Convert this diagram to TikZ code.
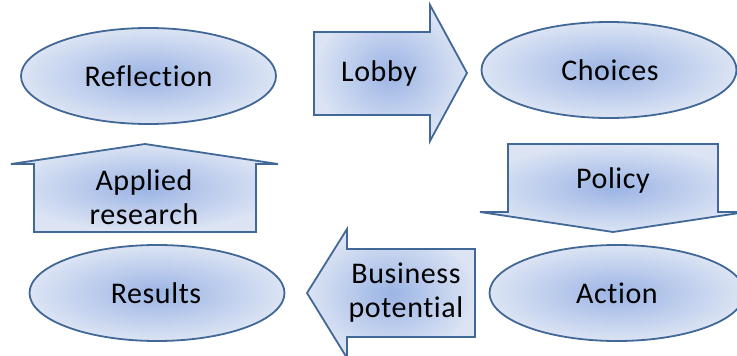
\documentclass[tikz,border=0pt]{standalone}
\usepackage{fontspec}
\setmainfont{Carlito}[Ligatures={NoCommon}, LetterSpace=2]
\usetikzlibrary{shapes.geometric}
\definecolor{edgeblue}{RGB}{65,104,150}
\definecolor{fillin}{RGB}{155,180,228}
\definecolor{fillout}{RGB}{220,228,244}
\tikzset{
  shapefill/.style={draw=edgeblue, line width=1.8pt, line join=miter,
    inner color=fillin, outer color=fillout},
  oval/.style={shapefill, ellipse, minimum width=255pt, minimum height=96pt,
    inner sep=0pt},
  label text/.style={font=\fontsize{30}{34}\selectfont, align=center,
    text=black, inner sep=0pt}
}
\begin{document}
\begin{tikzpicture}[x=1pt, y=-1pt]
  \useasboundingbox (0,0) rectangle (737,356);

  % ovals
  \node[oval] (reflection) at (148.5,76) {};
  \node[oval] (choices) at (609,70) {};
  \node[oval] (results) at (157,293) {};
  \node[oval] (action) at (617,293) {};

  % block arrows
  \path[shapefill] (314,32) -- (430,32) -- (430,5) -- (467,73)
    -- (430,141) -- (430,115) -- (314,115) -- cycle;
  \path[shapefill] (508,144) -- (718,144) -- (718,212) -- (746,212)
    -- (613,232) -- (480,212) -- (508,212) -- cycle;
  \path[shapefill] (475,249) -- (475,337) -- (347,337) -- (347,358)
    -- (307,293) -- (347,229) -- (347,249) -- cycle;
  \path[shapefill] (34,232) -- (34,164) -- (11,164) -- (145,144)
    -- (278,164) -- (256,164) -- (256,232) -- cycle;

  % labels
  \node[label text] (reflectiontext) at (148.5,76) {Reflection};
  \node[label text] (choicestext) at (610,70) {Choices};
  \node[label text] (resultstext) at (156,293) {Results};
  \node[label text] (actiontext) at (617,293) {Action};
  \node[label text] (lobby) at (379,74) {Lobby};
  \node[label text] (policy) at (613,181) {Policy};
  \node[label text] (business) at (406,293) {Business\\potential};
  \node[label text] (applied) at (144,197) {Applied\\research};
\end{tikzpicture}
\end{document}
